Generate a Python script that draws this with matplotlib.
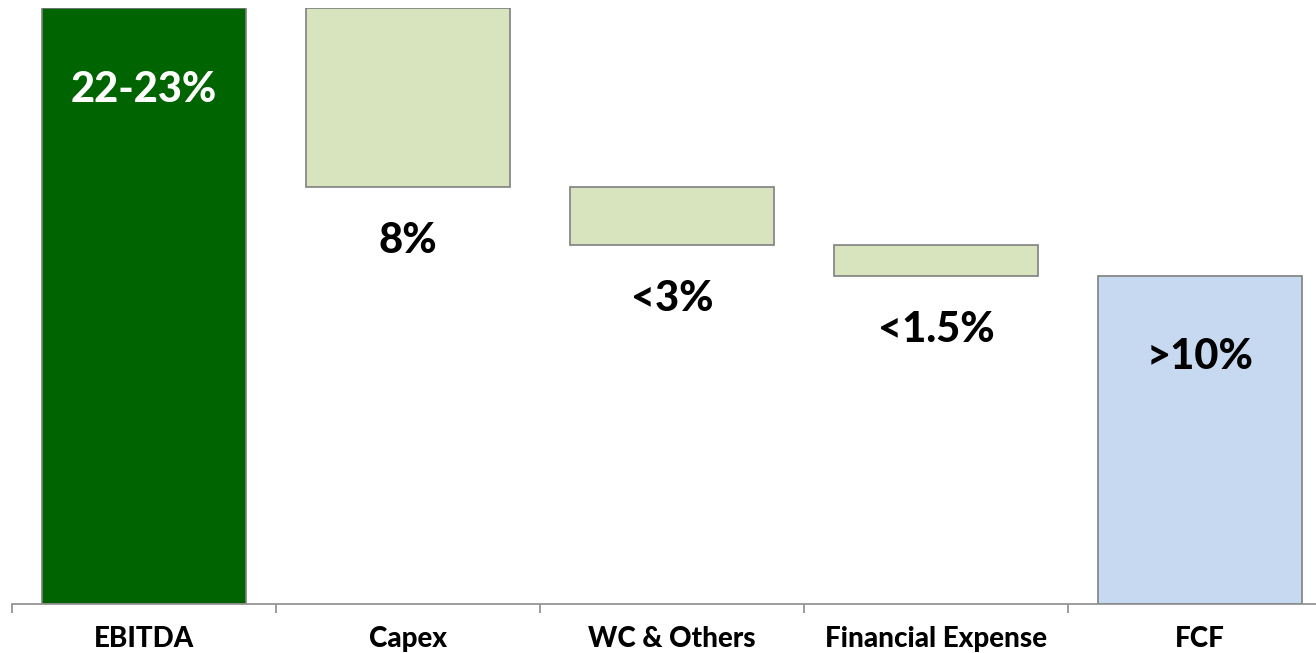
import numpy as np
import matplotlib.pyplot as plt

plt.rcParams['font.family'] = ['Lato', 'DejaVu Sans']

categories = ['EBITDA', 'Capex', 'WC & Others', 'Financial Expense', 'FCF']
# bar heights (% of sales, approximate)
values = [22.5, -6.75, -2.2, -1.15, 12.4]
labels = ['22-23%', '8%', '<3%', '<1.5%', '>10%']
colors = ['#006400', '#D7E4BD', '#D7E4BD', '#D7E4BD', '#C6D9F1']

# waterfall: start and end are totals, middle steps hang from running total
bottoms = []
heights = []
running = 0.0
for i, v in enumerate(values):
    if i == 0 or i == len(values) - 1:
        bottoms.append(0.0)
        heights.append(abs(v))
        running = abs(v) if i == 0 else running
    else:
        running += v
        bottoms.append(running)
        heights.append(-v)

fig = plt.figure(figsize=(13.16, 6.53), dpi=100)
ax = fig.add_axes([12/1316, 49/653, 1320/1316, 596/653])

x = np.arange(len(categories))
ax.bar(x, heights, bottom=bottoms, width=0.773, color=colors,
       edgecolor='#808080', linewidth=1.2)

for i, lab in enumerate(labels):
    if i == 0 or i == len(values) - 1:
        ytop = bottoms[i] + heights[i]
        col = 'white' if i == 0 else 'black'
        ax.annotate(lab, (x[i], ytop), xytext=(0, -59), textcoords='offset points',
                    ha='center', va='center', fontsize=30, fontweight='black', color=col)
    else:
        ax.annotate(lab, (x[i], bottoms[i]), xytext=(0, -39), textcoords='offset points',
                    ha='center', va='center', fontsize=30, fontweight='black', color='black')

ax.set_xlim(-0.5, len(categories) - 0.5)
ax.set_ylim(0, 22.5)
ax.set_yticks([])
for s in ['top', 'right', 'left']:
    ax.spines[s].set_visible(False)
ax.spines['bottom'].set_color('#8c8c8c')
ax.spines['bottom'].set_linewidth(1.2)

ax.set_xticks(x)
ax.set_xticklabels(categories, fontsize=20, fontweight='black')
ax.tick_params(axis='x', which='major', length=0, pad=16)
ax.set_xticks(np.arange(-0.5, len(categories), 1.0), minor=True)
ax.tick_params(axis='x', which='minor', length=6.5, width=1.2, color='#8c8c8c')

fig.savefig('out.png', dpi=100)
